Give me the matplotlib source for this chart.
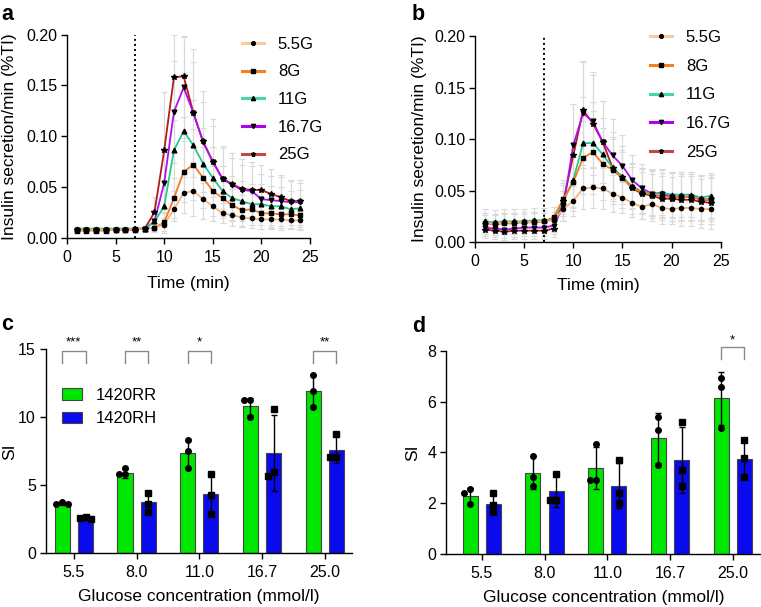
import numpy as np
import matplotlib.pyplot as plt
from matplotlib.lines import Line2D
from matplotlib.patches import Patch

plt.rcParams['font.family'] = ['Liberation Sans', 'DejaVu Sans']

# --- dades panells a i b (secreció d'insulina per minut) ---
temps = list(range(1, 25))
etiquetes = ['5.5G', '8G', '11G', '16.7G', '25G']

a_55 = [0.008, 0.008, 0.008, 0.008, 0.008, 0.008, 0.008, 0.009, 0.010, 0.013, 0.028, 0.044, 0.046, 0.038,
        0.031, 0.024, 0.022, 0.020, 0.019, 0.018, 0.018, 0.018, 0.017, 0.017]
a_8 = [0.007, 0.007, 0.007, 0.007, 0.008, 0.008, 0.009, 0.009, 0.010, 0.015, 0.039, 0.065, 0.072, 0.059,
       0.046, 0.039, 0.032, 0.027, 0.028, 0.024, 0.024, 0.023, 0.023, 0.022]
a_11 = [0.009, 0.009, 0.009, 0.009, 0.009, 0.009, 0.009, 0.009, 0.016, 0.031, 0.086, 0.105, 0.091, 0.073,
        0.059, 0.046, 0.039, 0.036, 0.033, 0.033, 0.031, 0.031, 0.028, 0.029]
a_167 = [0.008, 0.008, 0.008, 0.008, 0.008, 0.008, 0.008, 0.009, 0.016, 0.054, 0.124, 0.148, 0.123, 0.094,
         0.075, 0.058, 0.052, 0.047, 0.046, 0.038, 0.037, 0.036, 0.035, 0.035]
a_25 = [0.008, 0.008, 0.008, 0.008, 0.008, 0.008, 0.008, 0.009, 0.025, 0.086, 0.158, 0.159, 0.123, 0.095,
        0.075, 0.058, 0.053, 0.048, 0.047, 0.047, 0.043, 0.040, 0.036, 0.036]

a_55_sd = [0.002, 0.002, 0.002, 0.002, 0.002, 0.002, 0.002, 0.002, 0.003, 0.006, 0.012, 0.020, 0.025, 0.020,
           0.015, 0.010, 0.010, 0.009, 0.009, 0.009, 0.008, 0.008, 0.008, 0.008]
a_8_sd = [0.002, 0.002, 0.002, 0.002, 0.002, 0.002, 0.002, 0.002, 0.004, 0.010, 0.020, 0.030, 0.035, 0.030,
          0.025, 0.020, 0.016, 0.015, 0.015, 0.015, 0.015, 0.015, 0.014, 0.014]
a_11_sd = [0.002, 0.002, 0.002, 0.002, 0.002, 0.002, 0.002, 0.002, 0.008, 0.020, 0.040, 0.045, 0.045, 0.035,
           0.030, 0.025, 0.022, 0.020, 0.020, 0.020, 0.020, 0.019, 0.018, 0.018]
a_167_sd = [0.002, 0.002, 0.002, 0.002, 0.002, 0.002, 0.002, 0.002, 0.010, 0.030, 0.050, 0.050, 0.050, 0.040,
            0.035, 0.030, 0.027, 0.025, 0.025, 0.025, 0.024, 0.024, 0.022, 0.022]
a_25_sd = [0.003, 0.003, 0.003, 0.003, 0.003, 0.003, 0.003, 0.003, 0.015, 0.058, 0.042, 0.040, 0.063, 0.050,
           0.042, 0.032, 0.030, 0.030, 0.028, 0.025, 0.025, 0.022, 0.020, 0.018]

b_55 = [0.018, 0.018, 0.019, 0.019, 0.019, 0.020, 0.020, 0.021, 0.032, 0.040, 0.052, 0.053, 0.052, 0.047,
        0.043, 0.038, 0.034, 0.037, 0.033, 0.032, 0.033, 0.033, 0.032, 0.032]
b_8 = [0.018, 0.017, 0.018, 0.018, 0.019, 0.019, 0.020, 0.024, 0.042, 0.058, 0.082, 0.087, 0.076, 0.070,
       0.062, 0.053, 0.048, 0.046, 0.044, 0.043, 0.044, 0.044, 0.041, 0.042]
b_11 = [0.020, 0.019, 0.020, 0.020, 0.020, 0.021, 0.021, 0.022, 0.040, 0.060, 0.096, 0.096, 0.085, 0.072,
        0.063, 0.054, 0.049, 0.047, 0.048, 0.046, 0.046, 0.046, 0.043, 0.045]
b_167 = [0.014, 0.013, 0.012, 0.013, 0.014, 0.014, 0.014, 0.016, 0.035, 0.094, 0.125, 0.117, 0.097, 0.084,
         0.074, 0.060, 0.052, 0.047, 0.047, 0.044, 0.044, 0.044, 0.041, 0.041]
b_25 = [0.012, 0.011, 0.010, 0.011, 0.011, 0.011, 0.011, 0.013, 0.040, 0.084, 0.128, 0.115, 0.097, 0.072,
        0.063, 0.052, 0.047, 0.045, 0.042, 0.042, 0.041, 0.041, 0.039, 0.038]

b_55_sd = [0.008, 0.008, 0.008, 0.008, 0.008, 0.008, 0.008, 0.008, 0.012, 0.015, 0.020, 0.020, 0.020, 0.018,
           0.015, 0.014, 0.012, 0.012, 0.012, 0.012, 0.012, 0.012, 0.012, 0.012]
b_8_sd = [0.010, 0.010, 0.010, 0.010, 0.010, 0.010, 0.010, 0.010, 0.015, 0.025, 0.035, 0.040, 0.035, 0.030,
          0.025, 0.020, 0.020, 0.020, 0.020, 0.020, 0.020, 0.020, 0.020, 0.020]
b_11_sd = [0.012, 0.012, 0.012, 0.012, 0.012, 0.012, 0.012, 0.012, 0.015, 0.030, 0.045, 0.040, 0.035, 0.030,
           0.026, 0.022, 0.022, 0.022, 0.022, 0.022, 0.022, 0.022, 0.022, 0.022]
b_167_sd = [0.008, 0.008, 0.008, 0.008, 0.008, 0.008, 0.008, 0.008, 0.015, 0.040, 0.050, 0.045, 0.040, 0.035,
            0.030, 0.024, 0.024, 0.024, 0.024, 0.024, 0.024, 0.024, 0.024, 0.024]
b_25_sd = [0.008, 0.008, 0.008, 0.008, 0.008, 0.008, 0.008, 0.008, 0.020, 0.050, 0.048, 0.050, 0.040, 0.035,
           0.030, 0.025, 0.025, 0.025, 0.025, 0.025, 0.025, 0.025, 0.025, 0.025]

# --- dades panells c i d (índex de secreció) ---
glucosa = ['5.5', '8.0', '11.0', '16.7', '25.0']

c_rr = [3.65, 5.88, 7.35, 10.8, 11.95]
c_rr_sd = [0.12, 0.35, 1.05, 0.6, 1.15]
c_rr_pts = [[3.6, 3.8, 3.65], [5.8, 6.25, 5.85], [8.35, 7.5, 6.3], [11.3, 10.05, 11.25], [13.1, 11.9, 10.75]]
c_rh = [2.62, 3.75, 4.35, 7.4, 7.62]
c_rh_sd = [0.08, 0.7, 1.45, 2.8, 1.0]
c_rh_pts = [[2.55, 2.7, 2.6], [4.45, 3.65, 3.05], [5.85, 4.25, 2.9], [10.6, 5.95, 5.65], [8.75, 7.05, 7.1]]
c_sig = {0: '***', 1: '**', 2: '*', 4: '**'}

d_rr = [2.28, 3.2, 3.38, 4.58, 6.14]
d_rr_sd = [0.32, 0.65, 0.82, 0.98, 1.04]
d_rr_pts = [[2.55, 1.98, 2.42], [3.87, 3.03, 2.7], [4.35, 2.92, 2.92], [5.4, 4.9, 3.5], [6.92, 6.57, 4.98]]
d_rh = [1.97, 2.47, 2.7, 3.72, 3.75]
d_rh_sd = [0.36, 0.6, 0.9, 1.3, 0.68]
d_rh_pts = [[2.4, 1.92, 1.68], [3.17, 2.12, 2.15], [3.72, 2.4, 2.0], [5.2, 3.3, 2.7], [4.48, 3.78, 3.03]]
d_sig = {4: '*'}

colors_linies = ['#f7b27a', '#f47a1f', '#22c98d', '#b00ef0', '#b31b1b']
colors_llegenda = ['#f9c9a0', '#f58020', '#45d8a2', '#b000f0', '#c04848']
markers = ['o', 's', '^', 'v', '*']
mides = [3, 3, 3.4, 3.4, 4]
verd = '#00e600'
blau = '#0a0aee'

fig = plt.figure(figsize=(7.61, 6.07), dpi=100)


def estil_eixos(ax):
    ax.spines['top'].set_visible(False)
    ax.spines['right'].set_visible(False)
    ax.spines['left'].set_linewidth(1.0)
    ax.spines['bottom'].set_linewidth(1.0)
    ax.tick_params(direction='out', length=4.5, width=1.0, labelsize=11.5)
    ax.tick_params(axis='y', pad=2.5)
    ax.tick_params(axis='x', pad=4)


def panell_linies(ax, series, sds, ylab_x, xlab_y):
    for i in range(len(series) - 1, -1, -1):
        ax.errorbar(temps, series[i], yerr=sds[i], fmt='none', ecolor='#d9d9d9',
                    elinewidth=0.8, capsize=2, capthick=0.8, zorder=1)
    for i in range(len(series) - 1, -1, -1):
        ax.plot(temps, series[i], color=colors_linies[i], lw=1.3, zorder=2)
        ax.plot(temps, series[i], ls='none', marker=markers[i], ms=mides[i],
                mfc='black', mec='black', zorder=3)
    ax.plot([7, 7], [0, 0.2], color='black', lw=1.4, ls=(0, (1, 1.6)), zorder=4)
    ax.set_xlim(0, 25)
    ax.set_ylim(0, 0.2)
    ax.set_xticks([0, 5, 10, 15, 20, 25])
    ax.set_yticks([0, 0.05, 0.10, 0.15, 0.20])
    ax.set_yticklabels(['0.00', '0.05', '0.10', '0.15', '0.20'])
    ax.set_xlabel('Time (min)', fontsize=12.5, va='top')
    ax.set_ylabel('Insulin secretion/min (%TI)', fontsize=12.5)
    ax.yaxis.set_label_coords(ylab_x, 0.5)
    ax.xaxis.set_label_coords(0.5, xlab_y)
    estil_eixos(ax)
    handles = [Line2D([0], [0], color=colors_llegenda[i], lw=2.2, marker=markers[i], ms=mides[i] * 0.9,
                      mfc='black', mec='black') for i in range(5)]
    return handles


def eixam(pts, cx, px_x, px_y, diam=5.5, pas=0.095):
    # col·loca els punts evitant solapaments (tipus beeswarm)
    col = []
    for y in sorted(pts, reverse=True):
        for off in [0, -pas, pas, -2 * pas, 2 * pas]:
            ok = True
            for (xo, yo) in col:
                dx = (off - xo) * px_x
                dy = (y - yo) * px_y
                if np.hypot(dx, dy) < diam:
                    ok = False
                    break
            if ok:
                col.append((off, y))
                break
    return [(cx + o, y) for o, y in col]


def panell_barres(ax, rr, rr_sd, rr_pts, rh, rh_sd, rh_pts, sig, ymax, yticks, xlim, bh, ylab_x):
    x = np.arange(len(glucosa))
    w = 0.24
    d = 0.185
    ax.bar(x - d, rr, w, color=verd, edgecolor='#444444', linewidth=0.8, zorder=1, label='1420RR')
    ax.bar(x + d, rh, w, color=blau, edgecolor='#444444', linewidth=0.8, zorder=1, label='1420RH')
    ax.errorbar(x - d, rr, yerr=rr_sd, fmt='none', ecolor='black', elinewidth=1, capsize=2.5, zorder=2)
    ax.errorbar(x + d, rh, yerr=rh_sd, fmt='none', ecolor='black', elinewidth=1, capsize=2.5, zorder=2)
    ax.set_xlim(*xlim)
    ax.set_ylim(0, ymax)
    fig.canvas.draw()
    bb = ax.get_window_extent()
    px_x = bb.width / (xlim[1] - xlim[0])
    px_y = bb.height / ymax
    for i in range(len(glucosa)):
        for (px, py) in eixam(rr_pts[i], x[i] - d, px_x, px_y):
            ax.plot(px, py, 'o', color='black', ms=4, zorder=3)
        for (px, py) in eixam(rh_pts[i], x[i] + d, px_x, px_y):
            ax.plot(px, py, 's', color='black', ms=4, zorder=3)
    for i, s in sig.items():
        ax.plot([x[i] - d, x[i] - d, x[i] + d, x[i] + d], [bh[0], bh[1], bh[1], bh[0]],
                color='#8a8a8a', lw=1, clip_on=False)
        ax.text(x[i], bh[2], s, ha='center', va='center', fontsize=9.5, clip_on=False)
    ax.set_xticks(x)
    ax.set_xticklabels(glucosa)
    ax.set_yticks(yticks)
    ax.set_xlabel('Glucose concentration (mmol/l)', fontsize=12.5, va='top')
    ax.set_ylabel('SI', fontsize=12.5)
    ax.yaxis.set_label_coords(ylab_x, 0.5)
    ax.xaxis.set_label_coords(0.5, -0.175)
    estil_eixos(ax)


# panell a
ax_a = fig.add_axes([67 / 761, 1 - 237.7 / 607, 243 / 761, 203 / 607])
h = panell_linies(ax_a, [a_55, a_8, a_11, a_167, a_25], [a_55_sd, a_8_sd, a_11_sd, a_167_sd, a_25_sd],
                  -0.205, -0.19)
ax_a.legend(h, etiquetes, loc='upper left', bbox_to_anchor=(0.72, 0.99), frameon=False, fontsize=12,
            handlelength=1.3, labelspacing=0.76, handletextpad=0.85, borderpad=0, borderaxespad=0)

# panell b
ax_b = fig.add_axes([475 / 761, 1 - 242 / 607, 245.7 / 761, 206 / 607])
h = panell_linies(ax_b, [b_55, b_8, b_11, b_167, b_25], [b_55_sd, b_8_sd, b_11_sd, b_167_sd, b_25_sd],
                  -0.195, -0.175)
ax_b.legend(h, etiquetes, loc='upper left', bbox_to_anchor=(0.712, 1.03), frameon=False, fontsize=12,
            handlelength=1.3, labelspacing=0.83, handletextpad=0.85, borderpad=0, borderaxespad=0)

# panell c
ax_c = fig.add_axes([45.7 / 761, 1 - 553.3 / 607, 306.6 / 761, 204 / 607])
panell_barres(ax_c, c_rr, c_rr_sd, c_rr_pts, c_rh, c_rh_sd, c_rh_pts, c_sig, 15, [0, 5, 10, 15],
              (-0.45, 4.44), (14.0, 14.85, 15.5), -0.094)
leg_h = [Patch(facecolor=verd, edgecolor='#444444', lw=0.8), Patch(facecolor=blau, edgecolor='#444444', lw=0.8)]
ax_c.legend(leg_h, ['1420RR', '1420RH'], loc='upper left', bbox_to_anchor=(0.053, 0.81), frameon=False,
            fontsize=12, handlelength=1.2, handleheight=0.7, labelspacing=0.5, handletextpad=0.8,
            borderpad=0, borderaxespad=0)

# panell d
ax_d = fig.add_axes([446 / 761, 1 - 554.3 / 607, 315 / 761, 203.6 / 607])
panell_barres(ax_d, d_rr, d_rr_sd, d_rr_pts, d_rh, d_rh_sd, d_rh_pts, d_sig, 8, [0, 2, 4, 6, 8],
              (-0.57, 4.45), (7.66, 8.13, 8.4), -0.083)

# lletres dels panells
for txt, xx, yy in [('a', 1, 15), ('b', 412, 15), ('c', 1, 324), ('d', 412, 326)]:
    fig.text(xx / 761, 1 - yy / 607, txt, fontsize=15.5, fontweight='bold', ha='left', va='center')

fig.savefig('out.png', dpi=100)
